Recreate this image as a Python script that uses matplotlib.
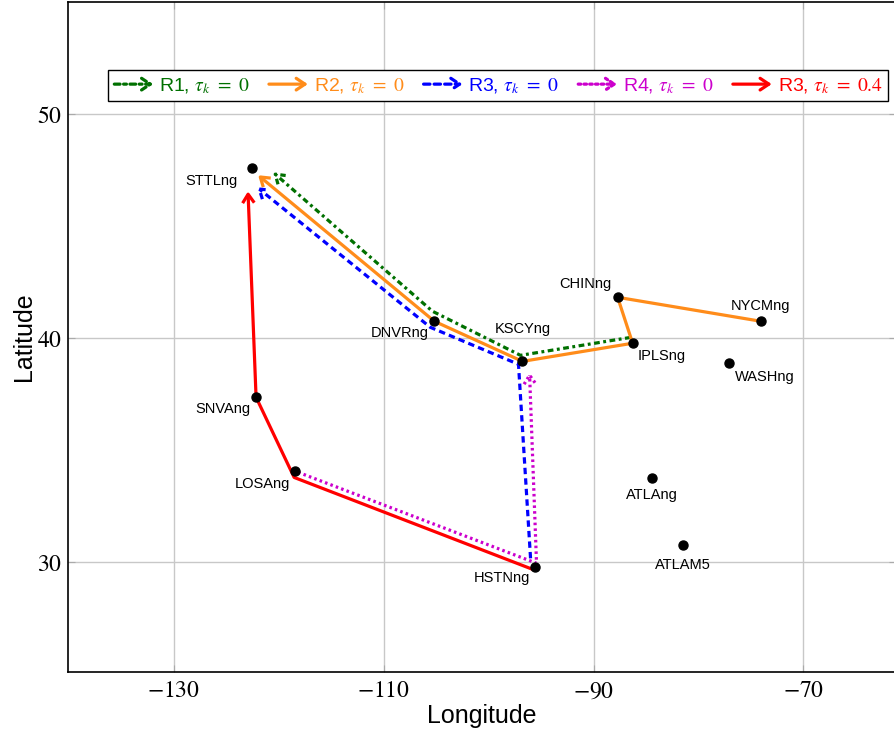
import matplotlib
matplotlib.use('Agg')
import matplotlib.pyplot as plt
from matplotlib.patches import FancyArrowPatch
from matplotlib.path import Path
from matplotlib.legend_handler import HandlerBase

plt.rcParams['font.family'] = ['Liberation Sans', 'DejaVu Sans']
plt.rcParams['mathtext.fontset'] = 'stix'

# nodes (lon, lat)
node_names = ['STTLng', 'DNVRng', 'KSCYng', 'CHINng', 'IPLSng', 'NYCMng',
              'WASHng', 'ATLAng', 'ATLAM5', 'HSTNng', 'LOSAng', 'SNVAng']
node_lon = [-122.55, -105.18, -96.78, -87.71, -86.28, -74.06,
            -77.11, -84.46, -81.50, -95.63, -118.45, -122.17]
node_lat = [47.59, 40.76, 38.97, 41.83, 39.78, 40.76,
            38.88, 33.75, 30.76, 29.78, 34.06, 37.37]

# route way points (lon, lat)
r1_lon = [-86.47, -96.97, -105.37, -120.55]
r1_lat = [40.04, 39.24, 41.21, 47.41]
r2_lon = [-74.06, -87.71, -86.28, -96.78, -105.18, -121.98]
r2_lat = [40.76, 41.83, 39.78, 38.97, 40.76, 47.28]
r3_lon = [-96.01, -97.16, -105.56, -122.08]
r3_lat = [30.18, 38.84, 40.49, 46.74]
r4_lon = [-118.16, -95.44, -96.11]
r4_lat = [34.02, 29.96, 38.48]
r3b_lon = [-95.82, -118.54, -122.17, -122.94]
r3b_lat = [29.69, 33.79, 37.37, 46.56]

route_labels = [r'R1, $\tau_k\ =\ 0$', r'R2, $\tau_k\ =\ 0$', r'R3, $\tau_k\ =\ 0$',
                r'R4, $\tau_k\ =\ 0$', r'R3, $\tau_k\ =\ 0.4$']

# label placement (pixels offset, alignment)
label_pos = {
    'STTLng': (-14, -13, 'right'), 'DNVRng': (-6, -12, 'right'),
    'KSCYng': (0, 32, 'center'), 'CHINng': (-6, 13, 'right'),
    'IPLSng': (5, -13, 'left'), 'NYCMng': (0, 15, 'center'),
    'WASHng': (6, -14, 'left'), 'ATLAng': (0, -17, 'center'),
    'ATLAM5': (0, -20, 'center'), 'HSTNng': (-4, -11, 'right'),
    'LOSAng': (-5, -13, 'right'), 'SNVAng': (-6, -12, 'right'),
}

styles = [
    ('#007000', (0, (1.8, 1.1, 0.9, 1.1))),
    ('#ff8c1a', '-'),
    ('#0000ff', (0, (2.0, 1.3))),
    ('#cc00cc', (0, (0.8, 1.0))),
    ('#ff0000', '-'),
]
arrow_style = '->,head_length=0.45,head_width=0.3'


class ArrowHandler(HandlerBase):
    def create_artists(self, legend, orig_handle, xdescent, ydescent,
                       width, height, fontsize, trans):
        y = height / 2 - ydescent
        a = FancyArrowPatch((-xdescent, y), (-xdescent + width, y),
                            arrowstyle=arrow_style, mutation_scale=14,
                            color=orig_handle.get_edgecolor(),
                            lw=orig_handle.get_linewidth(),
                            linestyle=orig_handle.get_linestyle(),
                            shrinkA=0, shrinkB=0, transform=trans)
        return [a]


fig = plt.figure(figsize=(8.94, 7.33), dpi=100)
ax = fig.add_axes([0.076, 0.083, 0.926, 0.914])
ax.set_xlim(-140.1, -61.2)
ax.set_ylim(25.1, 55)

routes = [(r1_lon, r1_lat), (r2_lon, r2_lat), (r3_lon, r3_lat),
          (r4_lon, r4_lat), (r3b_lon, r3b_lat)]
handles = []
for (lon, lat), (col, ls), lab in zip(routes, styles, route_labels):
    p = FancyArrowPatch(path=Path(list(zip(lon, lat))), arrowstyle=arrow_style,
                        mutation_scale=14, color=col, lw=2.3, linestyle=ls,
                        transform=ax.transData, zorder=3)
    p.set_capstyle('butt')
    ax.add_patch(p)
    h = FancyArrowPatch((0, 0), (1, 1), color=col, lw=2.3, linestyle=ls)
    handles.append(h)

ax.plot(node_lon, node_lat, 'o', color='black', markersize=6.5, zorder=4)
for name, lon, lat in zip(node_names, node_lon, node_lat):
    dx, dy, ha = label_pos[name]
    ax.annotate(name, (lon, lat), xytext=(dx, dy), textcoords='offset pixels',
                ha=ha, va='center', fontsize=10.5, zorder=5)

ax.set_xticks([-130, -110, -90, -70])
ax.set_yticks([30, 40, 50])
ax.set_xticklabels([r'$-130$', r'$-110$', r'$-90$', r'$-70$'])
ax.set_yticklabels([r'$30$', r'$40$', r'$50$'])
ax.tick_params(direction='in', length=5, color='#aaaaaa', labelsize=17,
               top=True, right=True)
ax.tick_params(axis='x', pad=6)
ax.tick_params(axis='y', pad=4)
ax.grid(True, color='#c8c8c8', lw=1)
ax.set_axisbelow(True)
for s in ax.spines.values():
    s.set_linewidth(1.2)
ax.spines['right'].set_visible(False)

ax.set_xlabel('Longitude', fontsize=18, labelpad=1)
ax.set_ylabel('Latitude', fontsize=18, labelpad=1)

leg = ax.legend(handles, route_labels, handler_map={FancyArrowPatch: ArrowHandler()},
                loc='center', bbox_to_anchor=(0.52, 0.875), ncol=5,
                fontsize=14, handlelength=2.0, handletextpad=0.3,
                columnspacing=1.0, borderpad=0.3, fancybox=False,
                framealpha=1, edgecolor='black')
leg.get_frame().set_linewidth(1.0)
for t, (col, ls) in zip(leg.get_texts(), styles):
    t.set_color(col)

fig.savefig('out.png', dpi=100)
